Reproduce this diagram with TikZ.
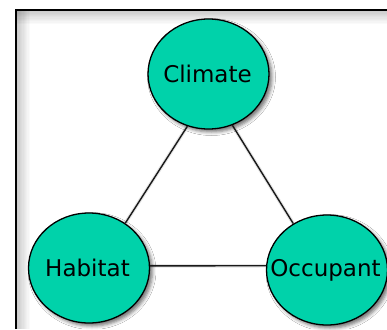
\documentclass[tikz,border=0pt]{standalone}
\usepackage{fontspec}
\setmainfont{DejaVu Sans}
\usetikzlibrary{shapes.geometric,shadows.blur}
\definecolor{blobfill}{RGB}{0,210,170}
\tikzset{
  blob/.style={ellipse, draw=black, line width=1.3pt, fill=blobfill,
    minimum width=121pt, minimum height=110pt, inner sep=0pt,
    blur shadow={shadow xshift=3pt, shadow yshift=-3pt, shadow blur radius=3.5pt, shadow opacity=55}},
  blobtext/.style={font=\fontsize{23}{26}\selectfont, text=black},
  link/.style={draw=black!90, line width=1.4pt},
  linkshadow/.style={draw=black, opacity=0.10, line width=3.5pt},
}
\begin{document}
\begin{tikzpicture}[x=1pt,y=-1pt]
\useasboundingbox (0,0) rectangle (387,329);
\fill[white] (0,0) rectangle (387,329);
% inner shadow of the frame
\foreach \i in {1,...,10}{
  \fill[black,opacity=0.018] (17,11) rectangle (17+1.3*\i,329);
  \fill[black,opacity=0.018] (17,11) rectangle (387,11+1.3*\i);
}
\draw[black,line width=2.2pt] (16,329) -- (16,10) -- (387,10);
% nodes
\node[blob] (climate) at (208.5,74) {};
\node[blob] (habitat) at (89,268) {};
\node[blob] (occupant) at (327,270) {};
\node[blobtext] (climatet) at (207.5,73.5) {Climate};
\node[blobtext] (habitatt) at (87.5,268) {Habitat};
\node[blobtext] (occupantt) at (325.5,270) {Occupant};
% connectors (shadows then lines)
\begin{scope}[shift={(2pt,-2.5pt)}]
\draw[linkshadow] (climate.248) -- (habitat.51);
\draw[linkshadow] (climate.295) -- (occupant.126);
\draw[linkshadow] (habitat.2) -- (occupant.176);
\end{scope}
\draw[link] (climate.248) -- (habitat.51);
\draw[link] (climate.295) -- (occupant.126);
\draw[link] (habitat.2) -- (occupant.176);
\end{tikzpicture}
\end{document}
